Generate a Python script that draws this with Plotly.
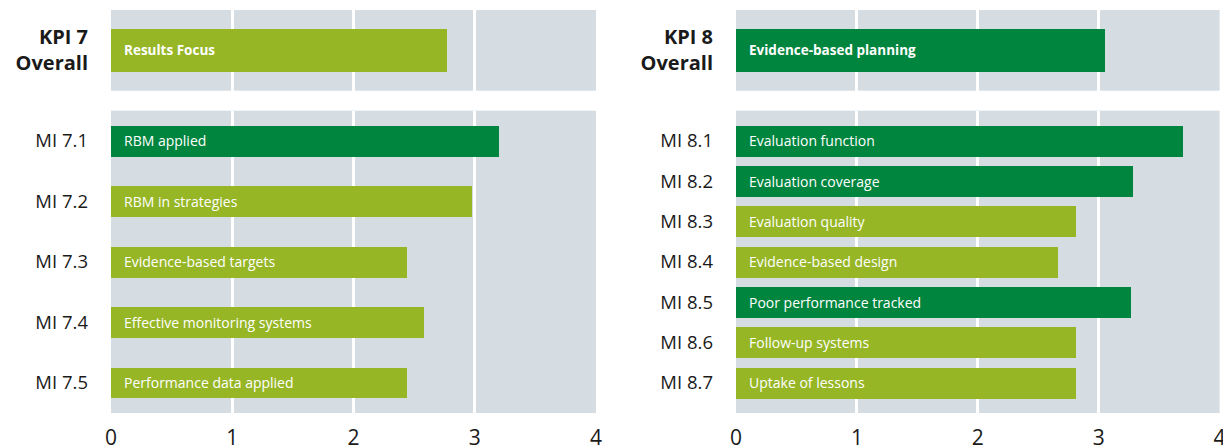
import plotly.graph_objects as go

# ---- data ----
kpi7_label = ["KPI 7<br>Overall"]
kpi7_name = ["Results Focus"]
kpi7_value = [2.77]

mi7_codes = ["MI 7.1", "MI 7.2", "MI 7.3", "MI 7.4", "MI 7.5"]
mi7_names = ["RBM applied", "RBM in strategies", "Evidence-based targets",
             "Effective monitoring systems", "Performance data applied"]
mi7_values = [3.20, 2.98, 2.44, 2.58, 2.44]

kpi8_label = ["KPI 8<br>Overall"]
kpi8_name = ["Evidence-based planning"]
kpi8_value = [3.05]

mi8_codes = ["MI 8.1", "MI 8.2", "MI 8.3", "MI 8.4", "MI 8.5", "MI 8.6", "MI 8.7"]
mi8_names = ["Evaluation function", "Evaluation coverage", "Evaluation quality",
             "Evidence-based design", "Poor performance tracked",
             "Follow-up systems", "Uptake of lessons"]
mi8_values = [3.70, 3.28, 2.81, 2.66, 3.27, 2.81, 2.81]

x_ticks = [0, 1, 2, 3, 4]

# ---- style ----
DARK = "#00853e"
LIGHT = "#96b626"
BG = "#d5dce2"
TXT = "#1a1a1a"
FONT = "Open Sans"


def colors(vals):
    return [DARK if v >= 3 else LIGHT for v in vals]


W, H = 1223, 448


def px_x(a, b):
    return [a / W, b / W]


def px_y(top, bottom):
    return [1 - bottom / H, 1 - top / H]


fig = go.Figure()

panels = [
    ("x", "y", kpi7_label, kpi7_name, kpi7_value, 0.54, True),
    ("x2", "y2", mi7_codes, mi7_names, mi7_values, 0.51, False),
    ("x3", "y3", kpi8_label, kpi8_name, kpi8_value, 0.54, True),
    ("x4", "y4", mi8_codes, mi8_names, mi8_values, 0.77, False),
]

annotations = []
for xa, ya, labels, names, vals, w, bold in panels:
    fig.add_trace(go.Bar(
        x=vals, y=labels, orientation="h", xaxis=xa, yaxis=ya,
        marker=dict(color=colors(vals), line=dict(width=0)),
        width=w, hoverinfo="skip", showlegend=False,
    ))
    for lab, nm in zip(labels, names):
        annotations.append(dict(
            x=0, y=lab, xref=xa, yref=ya, xanchor="left", yanchor="middle",
            xshift=11, showarrow=False,
            text=f"<b>{nm}</b>" if bold else nm,
            font=dict(family=FONT, size=13.5 if bold else 14, color="white"),
        ))

left_dom = px_x(111, 596)
right_dom = px_x(736, 1219.6)
top_dom = px_y(10, 90.7)
low_dom = px_y(110.7, 413)

xcommon = dict(range=[0, 4], tickvals=x_ticks, showgrid=True, gridcolor="white",
               gridwidth=2.5, zeroline=False, showline=False, fixedrange=True,
               automargin=False, ticks="", ticklabeloverflow="allow",
               tickfont=dict(family=FONT, size=21, color=TXT))
ycommon = dict(showgrid=False, zeroline=False, showline=False, ticks="",
               automargin=False, ticklabelstandoff=22, type="category")

fig.update_layout(
    width=W, height=H, margin=dict(l=0, r=0, t=0, b=0, autoexpand=False),
    paper_bgcolor="white", plot_bgcolor=BG,
    bargap=0,
    xaxis=dict(domain=left_dom, anchor="y", showticklabels=False, **xcommon),
    xaxis2=dict(domain=left_dom, anchor="y2", showticklabels=True,
                ticklabelstandoff=10, **xcommon),
    xaxis3=dict(domain=right_dom, anchor="y3", showticklabels=False, **xcommon),
    xaxis4=dict(domain=right_dom, anchor="y4", showticklabels=True,
                ticklabelstandoff=10, **xcommon),
    yaxis=dict(domain=top_dom, anchor="x", range=[0.5, -0.5],
               tickfont=dict(family=FONT, size=20, color=TXT),
               tickprefix="<b>", ticksuffix="</b>", **ycommon),
    yaxis2=dict(domain=low_dom, anchor="x2", range=[4.5, -0.5],
                tickfont=dict(family=FONT, size=18.5, color=TXT), **ycommon),
    yaxis3=dict(domain=top_dom, anchor="x3", range=[0.5, -0.5],
                tickfont=dict(family=FONT, size=20, color=TXT),
                tickprefix="<b>", ticksuffix="</b>", **ycommon),
    yaxis4=dict(domain=low_dom, anchor="x4", range=[6.75, -0.75],
                tickfont=dict(family=FONT, size=18.5, color=TXT), **ycommon),
    annotations=annotations,
)

fig.write_html(
    "out.html",
    config={"displayModeBar": False},
    post_script="document.body.style.margin='0';document.body.style.overflow='hidden';",
)
